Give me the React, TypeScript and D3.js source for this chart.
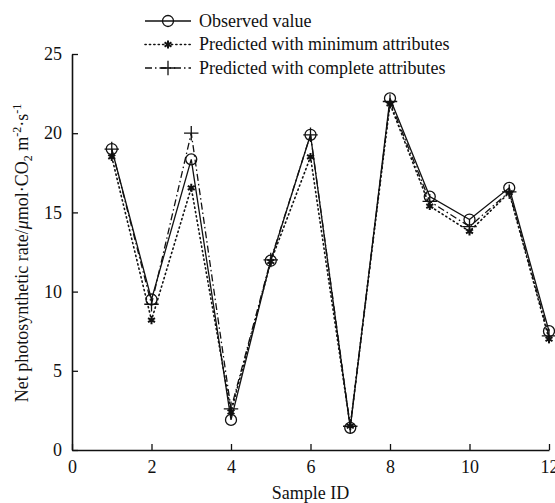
import React, { useEffect, useRef } from "react";
import * as d3 from "d3";

const sampleIds = [1, 2, 3, 4, 5, 6, 7, 8, 9, 10, 11, 12];
const observed = [19.0, 9.5, 18.35, 1.9, 11.95, 19.9, 1.4, 22.2, 16.0, 14.55, 16.55, 7.5];
const predictedMin = [18.5, 8.2, 16.55, 2.4, 11.9, 18.5, 1.5, 21.85, 15.4, 13.8, 16.25, 7.0];
const predictedFull = [19.0, 9.2, 20.0, 2.6, 12.0, 19.9, 1.5, 22.0, 15.7, 14.1, 16.3, 7.2];
const xTicks = [0, 2, 4, 6, 8, 10, 12];
const yTicks = [0, 5, 10, 15, 20, 25];
const legendLabels = [
  "Observed value",
  "Predicted with minimum attributes",
  "Predicted with complete attributes",
];

const FONT = "'Liberation Serif', 'Times New Roman', serif";

const drawChart = (svgEl: SVGSVGElement | null) => {
  if (!svgEl) return;
  const svg = d3.select(svgEl);
  svg.selectAll("*").remove();

  const x = d3.scaleLinear().domain([0, 12]).range([72, 549]);
  const y = d3.scaleLinear().domain([0, 25]).range([450, 54]);

  const series = [
    { values: observed, dash: null, marker: "circle" },
    { values: predictedMin, dash: "1.2,3.2", marker: "star" },
    { values: predictedFull, dash: "7,3,1.5,3", marker: "plus" },
  ];

  const drawMarker = (g: any, kind: string, cx: number, cy: number) => {
    if (kind === "circle") {
      g.append("circle")
        .attr("cx", cx).attr("cy", cy).attr("r", 5.5)
        .attr("fill", "none").attr("stroke", "#111").attr("stroke-width", 1.3);
    } else if (kind === "star") {
      g.append("path")
        .attr("transform", `translate(${cx},${cy})`)
        .attr("d", d3.symbol(d3.symbolAsterisk, 45)())
        .attr("fill", "none").attr("stroke", "#111").attr("stroke-width", 2);
    } else {
      g.append("path")
        .attr("transform", `translate(${cx},${cy})`)
        .attr("d", d3.symbol(d3.symbolPlus, 70)())
        .attr("fill", "none").attr("stroke", "#111").attr("stroke-width", 1.3);
    }
  };

  // lines
  series.forEach((s) => {
    const line = d3.line<number>()
      .x((_, i) => x(sampleIds[i]))
      .y((d) => y(d));
    svg.append("path")
      .datum(s.values)
      .attr("d", line)
      .attr("fill", "none")
      .attr("stroke", "#111")
      .attr("stroke-width", s.dash === "1.2,3.2" ? 1.6 : 1.3)
      .attr("stroke-linecap", s.dash === "1.2,3.2" ? "round" : "butt")
      .attr("stroke-dasharray", s.dash);
  });

  // markers
  series.forEach((s) => {
    const g = svg.append("g");
    s.values.forEach((v, i) => drawMarker(g, s.marker, x(sampleIds[i]), y(v)));
  });

  // axes (ticks pointing inward)
  const xAxis = svg.append("g").attr("transform", `translate(0,${y(0)})`)
    .call(d3.axisBottom(x).tickValues(xTicks).tickSizeInner(-6).tickSizeOuter(0).tickPadding(10));
  const yAxis = svg.append("g").attr("transform", `translate(${x(0)},0)`)
    .call(d3.axisLeft(y).tickValues(yTicks).tickSizeInner(-6).tickSizeOuter(0).tickPadding(10));
  [xAxis, yAxis].forEach((a) => {
    a.select(".domain").attr("stroke", "#111").attr("stroke-width", 1.6);
    a.selectAll(".tick line").attr("stroke", "#111").attr("stroke-width", 1.3);
    a.selectAll(".tick text")
      .attr("font-family", FONT).attr("font-size", 18).attr("fill", "#111");
  });

  // axis titles
  svg.append("text")
    .attr("x", x(6)).attr("y", 499)
    .attr("text-anchor", "middle")
    .attr("font-family", FONT).attr("font-size", 18).attr("fill", "#111")
    .text("Sample ID");

  const yt = svg.append("text")
    .attr("transform", `translate(28,253) rotate(-90)`)
    .attr("text-anchor", "middle")
    .attr("font-family", FONT).attr("font-size", 18).attr("fill", "#111");
  yt.append("tspan").text("Net photosynthetic rate/");
  yt.append("tspan").attr("font-style", "italic").text("μ");
  yt.append("tspan").text("mol·CO");
  yt.append("tspan").attr("font-size", 12).attr("dy", 4).text("2");
  yt.append("tspan").attr("dy", -4).text(" m");
  yt.append("tspan").attr("font-size", 12).attr("dy", -7).text("-2");
  yt.append("tspan").attr("dy", 7).text("·s");
  yt.append("tspan").attr("font-size", 12).attr("dy", -7).text("-1");

  // legend
  const legend = svg.append("g");
  series.forEach((s, i) => {
    const ly = 21 + i * 23.5;
    legend.append("line")
      .attr("x1", 145).attr("x2", 191).attr("y1", ly).attr("y2", ly)
      .attr("stroke", "#111")
      .attr("stroke-width", s.dash === "1.2,3.2" ? 1.6 : 1.3)
      .attr("stroke-linecap", s.dash === "1.2,3.2" ? "round" : "butt")
      .attr("stroke-dasharray", s.dash);
    drawMarker(legend, s.marker, 168, ly);
    legend.append("text")
      .attr("x", 199).attr("y", ly).attr("dy", "0.33em")
      .attr("font-family", FONT).attr("font-size", 18).attr("fill", "#111")
      .text(legendLabels[i]);
  });
};

const App = () => {
  const ref = useRef<SVGSVGElement>(null);
  useEffect(() => {
    drawChart(ref.current);
  }, []);
  return (
    <svg
      ref={ref}
      width={555}
      height={503}
      style={{ position: "absolute", left: 0, top: 0, background: "#fff" }}
    />
  );
};

export default App;
